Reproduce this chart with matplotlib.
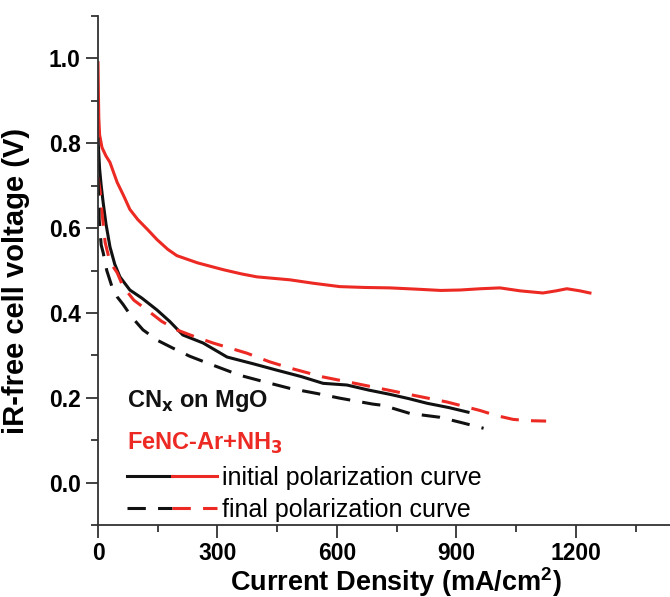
import matplotlib
matplotlib.use("Agg")
import matplotlib.pyplot as plt
from matplotlib.lines import Line2D
from matplotlib.legend_handler import HandlerTuple

plt.rcParams['font.family'] = ['Liberation Sans', 'DejaVu Sans']

# FeNC-Ar+NH3, initial (red solid)
fenc_init_x = [0, 1, 2, 4, 10, 20, 30, 48, 65, 80, 100, 125, 148, 175, 198, 250, 314, 360, 399,
               482, 540, 607, 670, 733, 800, 860, 909, 960, 1009, 1060, 1117, 1150, 1177, 1210, 1235]
fenc_init_y = [0.99, 0.92, 0.86, 0.82, 0.79, 0.77, 0.755, 0.708, 0.675, 0.644, 0.62, 0.596, 0.573,
               0.55, 0.535, 0.518, 0.502, 0.492, 0.485, 0.478, 0.47, 0.462, 0.46, 0.459, 0.456,
               0.453, 0.454, 0.457, 0.459, 0.452, 0.447, 0.452, 0.457, 0.452, 0.447]

# FeNC-Ar+NH3, final (red dashed)
fenc_final_x = [0, 5, 10, 18, 30, 48, 63, 90, 123, 160, 198, 240, 289, 374, 430, 482, 565, 640,
                708, 791, 876, 959, 1000, 1042, 1080, 1125]
fenc_final_y = [0.72, 0.69, 0.637, 0.566, 0.52, 0.495, 0.462, 0.43, 0.407, 0.38, 0.36, 0.345,
                0.329, 0.305, 0.285, 0.27, 0.249, 0.235, 0.222, 0.206, 0.19, 0.17, 0.158, 0.149,
                0.146, 0.145]

# CNx on MgO, initial (black solid)
cnx_init_x = [0, 4, 8, 13, 20, 30, 42, 55, 80, 110, 148, 180, 213, 264, 324, 390, 449, 510, 565,
              625, 680, 733, 780, 826, 880, 929]
cnx_init_y = [0.81, 0.74, 0.70, 0.66, 0.61, 0.556, 0.515, 0.485, 0.454, 0.435, 0.407, 0.38,
              0.348, 0.329, 0.296, 0.28, 0.265, 0.25, 0.234, 0.23, 0.218, 0.208, 0.198, 0.187,
              0.177, 0.166]

# CNx on MgO, final (black dashed)
cnx_final_x = [0, 3, 8, 13, 22, 35, 48, 63, 85, 113, 150, 188, 230, 274, 356, 420, 482, 550,
               607, 690, 716, 783, 858, 910, 968]
cnx_final_y = [0.72, 0.62, 0.56, 0.542, 0.50, 0.462, 0.438, 0.42, 0.39, 0.36, 0.335, 0.317,
               0.298, 0.282, 0.253, 0.237, 0.222, 0.21, 0.199, 0.185, 0.182, 0.163, 0.154,
               0.142, 0.128]

x_ticks = [0, 300, 600, 900, 1200]
y_ticks = [0.0, 0.2, 0.4, 0.6, 0.8, 1.0]

RED = '#ec2a23'
BLACK = '#111111'
LW = 2.2

fig = plt.figure(figsize=(6.7, 5.97), dpi=100)
ax = fig.add_axes([98/670, 72/597, 572/670, 509/597])

ax.plot(fenc_init_x, fenc_init_y, color=RED, lw=LW)
ax.plot(cnx_init_x, cnx_init_y, color=BLACK, lw=LW)
ax.plot(fenc_final_x, fenc_final_y, color=RED, lw=LW, ls=(0, (6, 4)))
ax.plot(cnx_final_x, cnx_final_y, color=BLACK, lw=LW, ls=(0, (6, 4)))

ax.set_xlim(0, 1436)
ax.set_ylim(-0.1, 1.1)
ax.set_xticks(x_ticks)
ax.set_xticks([150, 450, 750, 1050, 1350], minor=True)
ax.set_yticks(y_ticks)
ax.set_yticklabels([f"{v:.1f}" for v in y_ticks])
ax.set_yticks([-0.1, 0.1, 0.3, 0.5, 0.7, 0.9, 1.1], minor=True)

for s in ['top', 'right']:
    ax.spines[s].set_visible(False)
for s in ['left', 'bottom']:
    ax.spines[s].set_linewidth(1.3)
    ax.spines[s].set_color('#333333')

ax.tick_params(which='major', direction='out', length=9, width=1.3, labelsize=16.5, color='#333333')
ax.tick_params(which='minor', direction='out', length=5, width=1.3, color='#333333')
for lab in ax.get_xticklabels() + ax.get_yticklabels():
    lab.set_fontweight('bold')

ax.set_xlabel('Current Density (mA/cm$^\\mathregular{2}$)', fontsize=19.5, fontweight='bold')
ax.set_ylabel('iR-free cell voltage (V)', fontsize=21, fontweight='bold')
ax.yaxis.set_label_coords(-0.119, 0.48)
ax.xaxis.set_label_coords(0.521, -0.078)

ax.text(0.0507, 0.232, 'CN$_\\mathbf{x}$ on MgO', transform=ax.transAxes,
        fontsize=17, fontweight='bold', color=BLACK)
ax.text(0.0507, 0.147, 'FeNC-Ar+NH$_\\mathbf{3}$', transform=ax.transAxes,
        fontsize=17, fontweight='bold', color=RED)

h_bs = Line2D([], [], color=BLACK, lw=LW)
h_rs = Line2D([], [], color=RED, lw=LW)
h_bd = Line2D([], [], color=BLACK, lw=LW, ls=(0, (6, 4)))
h_rd = Line2D([], [], color=RED, lw=LW, ls=(0, (6, 4)))
ax.legend([(h_bs, h_rs), (h_bd, h_rd)],
          ['initial polarization curve', 'final polarization curve'],
          handler_map={tuple: HandlerTuple(ndivide=None, pad=0)},
          loc='upper left', bbox_to_anchor=(0.0507, 0.116), frameon=False,
          fontsize=18, handlelength=3.6, handletextpad=0.2, labelspacing=0.33,
          borderpad=0, borderaxespad=0)

fig.savefig('out.png', dpi=100)
